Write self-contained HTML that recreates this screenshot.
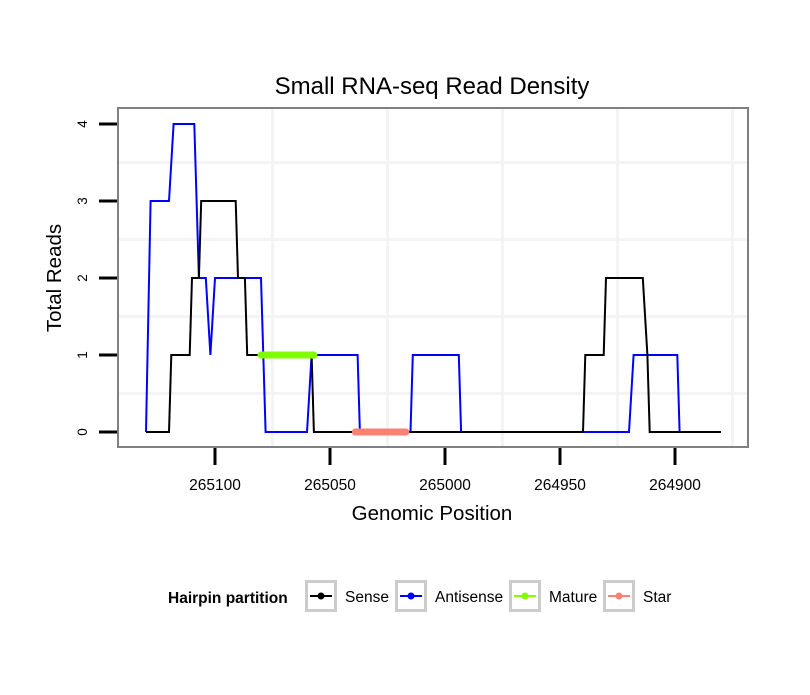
<!DOCTYPE html>
<html><head><meta charset="utf-8"><style>
body{margin:0;background:#fff;}
svg text{font-family:"Liberation Sans",sans-serif;}
</style></head><body>
<svg id="chart" width="810" height="690" xmlns="http://www.w3.org/2000/svg">
<rect width="810" height="690" fill="#fff"/>
<text x="432" y="94" font-size="24" text-anchor="middle">Small RNA-seq Read Density</text>
<rect x="118" y="108" width="630" height="339" fill="#fff"/>
<g id="grid"></g>
<g id="series"></g>
<rect x="118" y="108" width="630" height="339" fill="none" stroke="#808080" stroke-width="2"/>
<g id="axes"></g>
<text x="432" y="520" font-size="20.5" text-anchor="middle">Genomic Position</text>
<text transform="translate(61,278) rotate(-90)" font-size="20.5" text-anchor="middle">Total Reads</text>
<g>
<text x="168" y="603" font-size="15.5" font-weight="bold">Hairpin partition</text>
</g>
<g id="legend"></g>
</svg>
<script>
const yTicks=[0,1,2,3,4];
const xTicks=[265100,265050,265000,264950,264900];
const xMinor=[265075,265025,264975,264925,264875];
const yMinor=[0.5,1.5,2.5,3.5];
const senseX=[265130,265120,265119,265111,265110,265107,265106,265091,265090,265087,265086,265058,265057,264940,264939,264931,264930,264914,264912,264911,264880];
const senseY=[0,0,1,1,2,2,3,3,2,2,1,1,0,0,1,1,2,2,1,0,0];
const antiX=[265130,265128,265120,265118,265109,265107,265104,265102,265100,265080,265078,265060,265058,265038,265037,265015,265014,264994,264993,264920,264918,264899,264898,264880];
const antiY=[0,3,3,4,4,2,2,1,2,2,0,0,1,1,0,0,1,1,0,0,1,1,0,0];
const matureX=[265080,265057];
const matureY=[1,1];
const starX=[265039,265017];
const starY=[0,0];
const legendLabels=["Sense","Antisense","Mature","Star"];
const legendColors=["#000000","#0000ff","#7fff00","#fa8072"];

const NS="http://www.w3.org/2000/svg";
function sx(v){return 215+(265100-v)*2.3;}
function sy(v){return 432-v*77;}
function mk(t,a,p){const e=document.createElementNS(NS,t);for(const k in a)e.setAttribute(k,a[k]);p.appendChild(e);return e;}
const grid=document.getElementById('grid');
xMinor.forEach(v=>{const l=mk('line',{x1:sx(v),x2:sx(v),y1:109,y2:446,stroke:'#f4f4f4','stroke-width':3},grid);

});
yMinor.forEach(v=>{const l=mk('line',{x1:119,x2:747,y1:sy(v),y2:sy(v),stroke:'#f4f4f4','stroke-width':3},grid);

});
const ser=document.getElementById('series');
function path(xs,ys,col,w,name){const d=xs.map((x,i)=>(i?'L':'M')+sx(x).toFixed(1)+' '+sy(ys[i]).toFixed(1)).join(' ');
const p=mk('path',{d:d,fill:'none',stroke:col,'stroke-width':w,'stroke-linecap':w>3?'round':'butt','stroke-linejoin':'miter'},ser);

}
path(antiX,antiY,'#0000ff',2,'antisense-line');
path(senseX,senseY,'#000000',2,'sense-line');
path(matureX,matureY,'#7fff00',7,'mature-segment');
path(starX,starY,'#fa8072',7,'star-segment');
const ax=document.getElementById('axes');
yTicks.forEach(v=>{const l=mk('line',{x1:99,x2:117,y1:sy(v),y2:sy(v),stroke:'#000','stroke-width':3},ax);


const t=mk('text',{transform:`translate(87,${sy(v)}) rotate(-90)`,'font-size':13.5,'text-anchor':'middle'},ax);t.textContent=v;

});
xTicks.forEach(v=>{const l=mk('line',{x1:sx(v),x2:sx(v),y1:448,y2:465,stroke:'#000','stroke-width':3},ax);


const t=mk('text',{x:sx(v),y:490,'font-size':15.5,'text-anchor':'middle'},ax);t.textContent=v;

});
const lg=document.getElementById('legend');
const boxX=[305,395,509,603];
legendLabels.forEach((lab,i)=>{const g=mk('g',{},lg);


mk('rect',{x:boxX[i]+1.5,y:581.5,width:29,height:29,fill:'#fff',stroke:'#cccccc','stroke-width':3},g);
mk('line',{x1:boxX[i]+5,x2:boxX[i]+27,y1:596,y2:596,stroke:legendColors[i],'stroke-width':2},g);
mk('circle',{cx:boxX[i]+16,cy:596,r:3.5,fill:legendColors[i]},g);
const t=mk('text',{x:boxX[i]+40,y:602,'font-size':15.5},g);t.textContent=lab;});
</script>
</body></html>
